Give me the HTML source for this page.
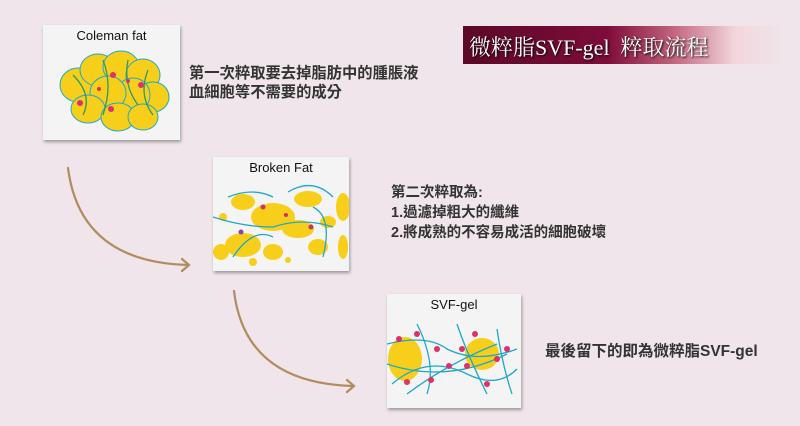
<!DOCTYPE html>
<html><head><meta charset="utf-8"><style>
body{margin:0;width:800px;height:426px;background:#efe5ea;position:relative;overflow:hidden;font-family:"Liberation Sans","Noto Sans CJK TC",sans-serif}
.box{position:absolute;background:#f4f4f5;box-shadow:1px 2px 3px rgba(0,0,0,.35)}
.box .t{position:absolute;left:0;right:0;top:3px;text-align:center;font-size:13px;color:#111}
.box svg{position:absolute;left:0;top:0}
.tx{position:absolute;font-size:15px;font-weight:bold;color:#333;line-height:19px;font-family:"Liberation Sans","Noto Sans CJK TC",sans-serif;white-space:nowrap}
.ban{position:absolute;left:463px;top:26px;width:320px;height:38px;background:linear-gradient(90deg,#5c0828 0%,#7e0c3a 45%,#c0607a 65%,#f2d6dc 85%,rgba(239,229,234,0) 100%)}
.ban span{position:absolute;left:6px;top:5px;font-size:22px;color:#fff;font-family:"Liberation Serif","Noto Serif CJK SC",serif;text-shadow:1px 1px 2px #000}
</style></head><body>
<div class="ban"><span>微粹脂SVF-gel&nbsp; 粹取流程</span></div>

<div class="box" style="left:43px;top:25px;width:137px;height:115px">
<div class="t">Coleman fat</div>
<svg width="137" height="115">
<g fill="#f7cf1a" stroke="#1aa9c9" stroke-width="1">
<ellipse cx="35" cy="60" rx="18" ry="17"/><ellipse cx="55" cy="45" rx="18" ry="16"/><ellipse cx="78" cy="42" rx="18" ry="16"/><ellipse cx="100" cy="50" rx="17" ry="16"/><ellipse cx="110" cy="72" rx="16" ry="15"/><ellipse cx="90" cy="70" rx="17" ry="17"/><ellipse cx="65" cy="68" rx="18" ry="17"/><ellipse cx="45" cy="84" rx="17" ry="14"/><ellipse cx="75" cy="92" rx="17" ry="14"/><ellipse cx="100" cy="92" rx="15" ry="13"/>
</g>
<g fill="none" stroke="#2a9a6a" stroke-width="1.3"><path d="M30 50 Q50 70 40 90 M60 35 Q70 60 60 90 M85 35 Q80 60 95 80 M105 45 Q95 70 110 90"/></g>
<g fill="#e0306a"><circle cx="70" cy="50" r="3"/><circle cx="98" cy="60" r="3"/><circle cx="37" cy="78" r="3"/><circle cx="68" cy="84" r="3"/><circle cx="56" cy="64" r="2"/><circle cx="85" cy="56" r="2"/></g>
</svg></div>

<div class="box" style="left:213px;top:157px;width:136px;height:114px">
<div class="t">Broken Fat</div>
<svg width="136" height="114">
<g fill="#f7cf1a">
<ellipse cx="30" cy="45" rx="12" ry="8"/><ellipse cx="95" cy="42" rx="14" ry="8"/><ellipse cx="60" cy="60" rx="22" ry="14"/><ellipse cx="85" cy="72" rx="16" ry="9"/><ellipse cx="30" cy="88" rx="18" ry="12"/><ellipse cx="60" cy="95" rx="10" ry="8"/><ellipse cx="105" cy="90" rx="10" ry="8"/><ellipse cx="130" cy="50" rx="7" ry="14"/><ellipse cx="130" cy="90" rx="5" ry="12"/><ellipse cx="8" cy="95" rx="8" ry="8"/><ellipse cx="115" cy="65" rx="8" ry="6"/><circle cx="10" cy="60" r="4"/><circle cx="40" cy="105" r="4"/><circle cx="75" cy="103" r="3"/></g>
<g fill="none" stroke="#1aa9c9" stroke-width="1.3"><path d="M15 40 Q40 30 60 40 M75 35 Q100 20 120 40 M0 60 Q30 70 60 70 Q90 60 120 70 M20 100 Q40 70 60 80 M100 50 Q120 60 110 100"/></g>
<g fill="#d0306a"><circle cx="50" cy="50" r="2.5"/><circle cx="98" cy="70" r="2.5"/><circle cx="73" cy="58" r="2"/></g><circle cx="28" cy="75" r="2.5" fill="#8844aa"/>
</svg></div>

<div class="box" style="left:387px;top:294px;width:134px;height:114px">
<div class="t">SVF-gel</div>
<svg width="134" height="114">
<g fill="#f7cf1a"><ellipse cx="18" cy="65" rx="17" ry="22"/><ellipse cx="95" cy="60" rx="17" ry="16"/></g>
<g fill="none" stroke="#1aa9c9" stroke-width="1.3"><path d="M0 50 Q40 40 60 55 Q90 70 130 55 M5 90 Q40 60 80 80 Q110 95 130 75 M30 30 Q50 70 40 100 M70 30 Q80 60 100 100 M110 35 Q115 70 125 100 M0 70 Q60 90 120 60 M20 100 Q60 70 110 50"/></g>
<g fill="#e0306a"><circle cx="30" cy="40" r="3"/><circle cx="50" cy="55" r="3"/><circle cx="62" cy="72" r="3"/><circle cx="75" cy="55" r="3"/><circle cx="80" cy="72" r="3"/><circle cx="110" cy="65" r="3"/><circle cx="20" cy="88" r="3"/><circle cx="44" cy="86" r="3"/><circle cx="100" cy="90" r="3"/><circle cx="120" cy="55" r="3"/><circle cx="12" cy="45" r="3"/><circle cx="88" cy="40" r="3"/></g>
</svg></div>

<svg width="800" height="426" style="position:absolute;left:0;top:0">
<g fill="none" stroke="#b08c5e" stroke-width="2.2" stroke-linecap="round">
<path d="M68 168 Q80 262 188 265"/><path d="M182 259 L189 265 L182 271"/>
<path d="M234 291 Q245 383 353 386"/><path d="M347 380 L354 386 L347 392"/>
</g></svg>

<div class="tx" style="left:189px;top:64px;font-size:15.3px">第一次粹取要去掉脂肪中的腫脹液<br>血細胞等不需要的成分</div>
<div class="tx" style="left:391px;top:183px;font-size:14.5px;line-height:20px">第二次粹取為:<br>1.過濾掉粗大的纖維<br>2.將成熟的不容易成活的細胞破壞</div>
<div class="tx" style="left:545px;top:342px;font-size:15.5px">最後留下的即為微粹脂SVF-gel</div>
</body></html>
